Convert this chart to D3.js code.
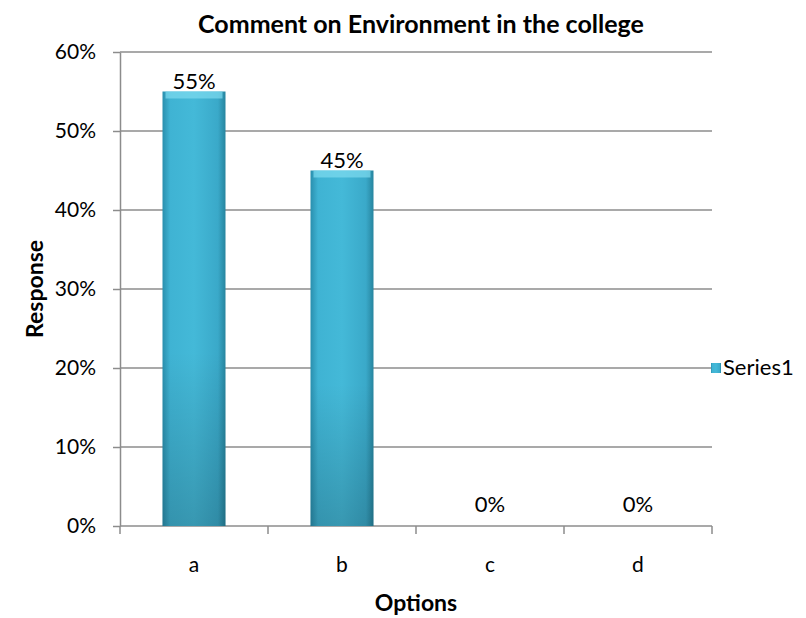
<!DOCTYPE html>
<html><head><meta charset="utf-8">
<script src="https://cdn.jsdelivr.net/npm/d3@7"></script>
<style>body{margin:0;background:#fff}svg{display:block}text{font-family:Lato,"Open Sans",sans-serif}</style>
</head><body>
<script>
const categories = ["a","b","c","d"];
const values = [0.55,0.45,0,0];
const valueLabels = ["55%","45%","0%","0%"];
const yTicks = [0,0.1,0.2,0.3,0.4,0.5,0.6];
const seriesName = "Series1";
const title = "Comment on Environment in the college";

const W=806,H=618;
const m={l:120,r:94,t:52,b:92};
const svg=d3.select("body").append("svg").attr("width",W).attr("height",H);
const defs=svg.append("defs");
const g1=defs.append("linearGradient").attr("id","bh").attr("x1",0).attr("x2",1).attr("y1",0).attr("y2",0);
[[0,"#2a8fae"],[0.12,"#3fb3d3"],[0.5,"#44b9d8"],[0.88,"#3aa9c9"],[1,"#27859f"]].forEach(d=>g1.append("stop").attr("offset",d[0]).attr("stop-color",d[1]));
const g2=defs.append("linearGradient").attr("id","bv").attr("x1",0).attr("x2",0).attr("y1",0).attr("y2",1);
[[0,"#ffffff",0],[0.6,"#000000",0],[1,"#000000",0.18]].forEach(d=>g2.append("stop").attr("offset",d[0]).attr("stop-color",d[1]).attr("stop-opacity",d[2]));

const x=d3.scaleBand().domain(categories).range([m.l,W-m.r]);
const y=d3.scaleLinear().domain([0,0.6]).range([H-m.b,m.t]);

// grid
svg.append("g").selectAll("line").data(yTicks.slice(1)).join("line")
 .attr("x1",m.l).attr("x2",W-m.r).attr("y1",d=>y(d)).attr("y2",d=>y(d))
 .attr("stroke","#8c8c8c").attr("stroke-width",1.5);

// y axis
const ya=svg.append("g").attr("transform",`translate(${m.l},0)`)
 .call(d3.axisLeft(y).tickValues(yTicks).tickFormat(d3.format(".0%")).tickSizeInner(7).tickSizeOuter(0).tickPadding(17));
ya.select(".domain").attr("stroke","#8c8c8c").attr("stroke-width",1.5);
ya.selectAll(".tick line").attr("stroke","#8c8c8c").attr("stroke-width",1.5);
ya.selectAll("text").attr("font-size",21).attr("fill","#000");

// x axis
const xa=svg.append("g").attr("transform",`translate(0,${H-m.b})`);
xa.append("line").attr("x1",m.l).attr("x2",W-m.r).attr("stroke","#8c8c8c").attr("stroke-width",1.5);
const bounds=categories.map(c=>x(c)).concat([W-m.r]);
xa.selectAll("line.t").data(bounds).join("line").attr("class","t")
 .attr("x1",d=>d).attr("x2",d=>d).attr("y1",0).attr("y2",8).attr("stroke","#8c8c8c").attr("stroke-width",1.5);
xa.selectAll("text").data(categories).join("text")
 .attr("x",d=>x(d)+x.bandwidth()/2).attr("y",46).attr("text-anchor","middle").attr("font-size",21).text(d=>d);

// bars
const bw=63;
const bars=svg.append("g").selectAll("g").data(categories.map((c,i)=>({c,v:values[i],l:valueLabels[i]}))).join("g");
bars.filter(d=>d.v>0).append("rect")
 .attr("x",d=>x(d.c)+x.bandwidth()/2-bw/2).attr("width",bw)
 .attr("y",d=>y(d.v)).attr("height",d=>y(0)-y(d.v)).attr("fill","url(#bh)");
bars.filter(d=>d.v>0).append("rect")
 .attr("x",d=>x(d.c)+x.bandwidth()/2-bw/2).attr("width",bw)
 .attr("y",d=>y(d.v)).attr("height",d=>y(0)-y(d.v)).attr("fill","url(#bv)");
bars.filter(d=>d.v>0).append("rect")
 .attr("x",d=>x(d.c)+x.bandwidth()/2-bw/2+3).attr("width",bw-6)
 .attr("y",d=>y(d.v)).attr("height",7).attr("fill","#7fdcf0").attr("opacity",0.7);
bars.append("text").attr("x",d=>x(d.c)+x.bandwidth()/2).attr("y",d=>y(d.v)-(d.v>0?3:14))
 .attr("text-anchor","middle").attr("font-size",22).text(d=>d.l);

// title
svg.append("text").attr("x",421).attr("y",33).attr("text-anchor","middle").attr("font-size",25).attr("font-weight","bold").text(title);
// axis titles
svg.append("text").attr("transform",`translate(43,${(m.t+H-m.b)/2}) rotate(-90)`).attr("text-anchor","middle").attr("font-size",23).attr("font-weight","bold").text("Response");
svg.append("text").attr("x",(m.l+W-m.r)/2).attr("y",611).attr("text-anchor","middle").attr("font-size",23).attr("font-weight","bold").text("Options");
// legend
const lg=svg.append("g").attr("transform","translate(711,363)");
lg.append("rect").attr("width",10).attr("height",10).attr("fill","url(#bh)");
lg.append("text").attr("x",12).attr("y",12).attr("font-size",22).text(seriesName);
</script>
</body></html>
